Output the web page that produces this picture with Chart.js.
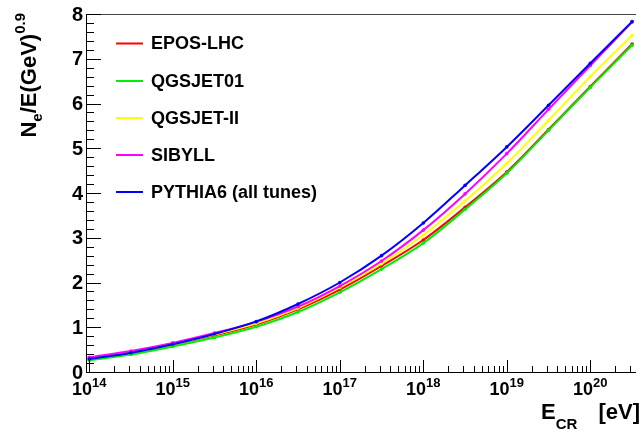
<!DOCTYPE html>
<html>
<head>
<meta charset="utf-8">
<script src="https://cdn.jsdelivr.net/npm/chart.js@4"></script>
<style>
  html, body { margin: 0; padding: 0; background: #fff; }
  #wrap { width: 640px; height: 432px; }
</style>
</head>
<body>
<div id="wrap"><canvas id="grafico" width="640" height="432"></canvas></div>
<script>
// log10(E/eV) de cada punto
const logE = [14, 14.5, 15, 15.5, 16, 16.5, 17, 17.5, 18, 18.5, 19, 19.5, 20, 20.5];

const eposLHC  = [0.30, 0.42, 0.61, 0.82, 1.06, 1.40, 1.84, 2.37, 2.95, 3.68, 4.47, 5.42, 6.38, 7.33];
const qgsjet01 = [0.26, 0.39, 0.57, 0.77, 1.01, 1.34, 1.78, 2.30, 2.88, 3.63, 4.44, 5.40, 6.36, 7.30];
const qgsjetII = [0.31, 0.44, 0.62, 0.84, 1.09, 1.43, 1.89, 2.42, 3.06, 3.82, 4.66, 5.62, 6.60, 7.52];
const sibyll   = [0.33, 0.47, 0.65, 0.87, 1.12, 1.46, 1.92, 2.48, 3.17, 3.98, 4.88, 5.87, 6.85, 7.82];
const pythia6  = [0.29, 0.43, 0.62, 0.85, 1.13, 1.52, 2.00, 2.60, 3.33, 4.17, 5.03, 5.96, 6.90, 7.83];

const modelos = ["EPOS-LHC", "QGSJET01", "QGSJET-II", "SIBYLL", "PYTHIA6 (all tunes)"];
const colores = ["#ff0000", "#00ee00", "#ffff00", "#ff00ff", "#0000ff"];
const series = [eposLHC, qgsjet01, qgsjetII, sibyll, pythia6];

const yTicks = [0, 1, 2, 3, 4, 5, 6, 7, 8];
const xDecadas = [14, 15, 16, 17, 18, 19, 20];

const FUENTE = "'Liberation Sans', Arial, Helvetica, sans-serif";

const datasets = series.map((s, i) => ({
  label: modelos[i],
  data: logE.map((e, j) => ({ x: Math.pow(10, e), y: s[j] })),
  borderColor: colores[i],
  backgroundColor: colores[i],
  borderWidth: 2,
  pointRadius: 1.8,
  pointBorderWidth: 0,
  cubicInterpolationMode: "monotone",
  fill: false,
  order: 5 - i
}));

// Dibuja marco, marcas, etiquetas y leyenda al estilo ROOT
const estiloROOT = {
  id: "estiloROOT",
  afterDraw(chart) {
    const ctx = chart.ctx;
    const a = chart.chartArea;
    const sx = chart.scales.x;
    const sy = chart.scales.y;
    ctx.save();

    // marco
    ctx.strokeStyle = "#444";
    ctx.lineWidth = 1;
    ctx.beginPath();
    ctx.moveTo(a.left, a.top + 0.5);
    ctx.lineTo(a.right, a.top + 0.5);
    ctx.stroke();
    ctx.strokeStyle = "#000";
    ctx.beginPath();
    ctx.moveTo(a.left + 0.5, a.top);
    ctx.lineTo(a.left + 0.5, a.bottom + 0.5);
    ctx.lineTo(a.right, a.bottom + 0.5);
    ctx.stroke();

    // marcas eje x
    ctx.beginPath();
    for (const d of xDecadas) {
      for (let k = 1; k <= 9; k++) {
        const v = k * Math.pow(10, d);
        if (v < sx.min || v > sx.max) continue;
        const px = Math.round(sx.getPixelForValue(v)) + 0.5;
        const len = k === 1 ? 12 : 6;
        ctx.moveTo(px, a.bottom);
        ctx.lineTo(px, a.bottom - len);
      }
    }
    // marcas eje y
    for (let i = 0; i <= 40; i++) {
      const v = i * 0.2;
      const py = Math.round(sy.getPixelForValue(v)) + 0.5;
      const len = i % 5 === 0 ? 15 : 8;
      ctx.moveTo(a.left, py);
      ctx.lineTo(a.left + len, py);
    }
    ctx.stroke();

    // etiquetas eje y
    ctx.fillStyle = "#000";
    ctx.font = "bold 20px " + FUENTE;
    ctx.textAlign = "right";
    ctx.textBaseline = "middle";
    for (const t of yTicks) {
      ctx.fillText(String(t), a.left - 3, sy.getPixelForValue(t) + 1);
    }

    // etiquetas eje x: 10^n
    ctx.textAlign = "left";
    ctx.textBaseline = "alphabetic";
    for (const d of xDecadas) {
      const px = sx.getPixelForValue(Math.pow(10, d));
      ctx.font = "bold 18px " + FUENTE;
      const w1 = ctx.measureText("10").width;
      ctx.font = "bold 13px " + FUENTE;
      const w2 = ctx.measureText(String(d)).width;
      const x0 = px - (w1 + w2) / 2;
      ctx.font = "bold 18px " + FUENTE;
      ctx.fillText("10", x0, 395);
      ctx.font = "bold 13px " + FUENTE;
      ctx.fillText(String(d), x0 + w1, 387);
    }

    // título eje x: E_CR [eV]
    ctx.font = "bold 22px " + FUENTE;
    ctx.fillText("E", 541, 419);
    const wE = ctx.measureText("E").width;
    ctx.font = "bold 15px " + FUENTE;
    ctx.fillText("CR", 541 + wE, 429);
    ctx.font = "bold 22px " + FUENTE;
    ctx.textAlign = "right";
    ctx.fillText("[eV]", 640, 419);

    // título eje y: N_e/E(GeV)^0.9
    const partes = [
      { t: "N", f: 22, dy: 0 },
      { t: "e", f: 15, dy: 6 },
      { t: "/E(GeV)", f: 22, dy: 0 },
      { t: "0.9", f: 15, dy: -11 }
    ];
    let total = 0;
    for (const p of partes) {
      ctx.font = "bold " + p.f + "px " + FUENTE;
      p.w = ctx.measureText(p.t).width;
      total += p.w;
    }
    ctx.translate(36, 13 + total);
    ctx.rotate(-Math.PI / 2);
    ctx.textAlign = "left";
    let cx = 0;
    for (const p of partes) {
      ctx.font = "bold " + p.f + "px " + FUENTE;
      ctx.fillText(p.t, cx, p.dy);
      cx += p.w;
    }
    ctx.setTransform(1, 0, 0, 1, 0, 0);

    // leyenda
    const ly = [43.5, 81, 118, 155, 192];
    ctx.font = "bold 18px " + FUENTE;
    ctx.textAlign = "left";
    ctx.textBaseline = "middle";
    chart.data.datasets.forEach((ds, i) => {
      ctx.strokeStyle = ds.borderColor;
      ctx.lineWidth = 2;
      ctx.beginPath();
      ctx.moveTo(116, ly[i]);
      ctx.lineTo(143, ly[i]);
      ctx.stroke();
      ctx.fillStyle = "#000";
      ctx.fillText(ds.label, 151, ly[i] + 1);
    });

    ctx.restore();
  }
};

new Chart(document.getElementById("grafico"), {
  type: "line",
  data: { datasets: datasets },
  options: {
    responsive: false,
    animation: false,
    layout: { padding: { left: 86, right: 0, top: 14, bottom: 60 } },
    scales: {
      x: {
        type: "logarithmic",
        display: false,
        min: Math.pow(10, 13.961),
        max: Math.pow(10, 20.547)
      },
      y: {
        type: "linear",
        display: false,
        min: 0,
        max: 8
      }
    },
    plugins: {
      legend: { display: false },
      tooltip: { enabled: false }
    }
  },
  plugins: [estiloROOT]
});
</script>
</body>
</html>
